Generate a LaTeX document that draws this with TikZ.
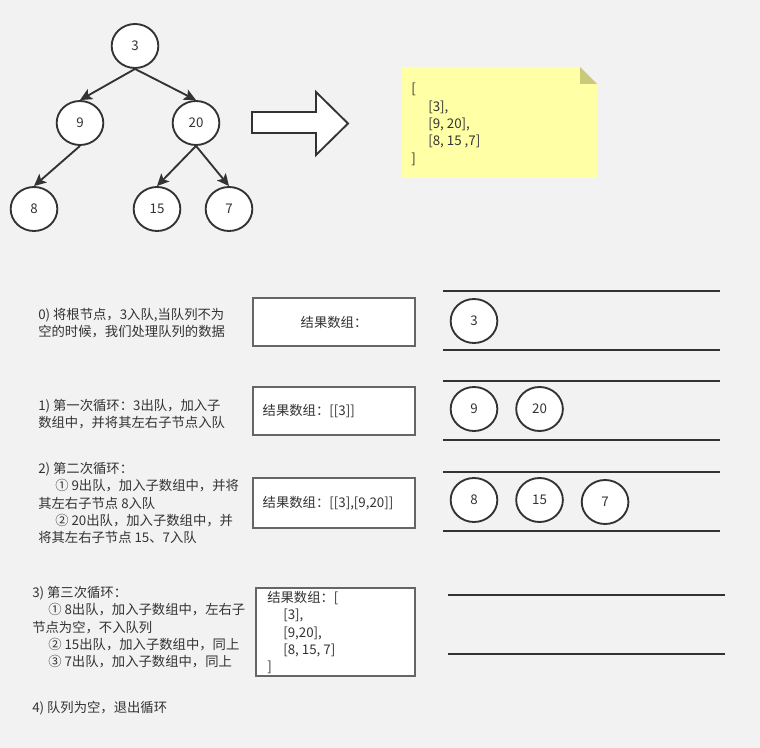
\documentclass[tikz,border=0pt]{standalone}
\usepackage{fontspec}
\setmainfont{Noto Sans CJK SC}
\usetikzlibrary{positioning}
\usetikzlibrary{shapes.geometric}
\usetikzlibrary{arrows.meta}
\definecolor{bggray}{HTML}{F2F2F2}
\definecolor{inkgray}{HTML}{333333}
\definecolor{boxgray}{HTML}{666666}
\definecolor{notefill}{HTML}{FFFFA6}
\definecolor{notefold}{HTML}{CACA7C}

\begin{document}
\begin{tikzpicture}[x=0.75pt, y=-0.75pt,
                circlenode/.style={ellipse, draw=inkgray, fill=white, line width=1.4pt, minimum width=35pt, minimum height=33pt, inner sep=0pt, text=inkgray, font=\fontsize{10}{12}\selectfont},
                resultnode/.style={rectangle, draw=boxgray, fill=white, line width=0.9pt, inner sep=0pt},
                steptext/.style={anchor=north west, align=left, inner sep=0pt, text=inkgray, font=\fontsize{10}{13}\selectfont},
                queueline/.style={draw=inkgray, line width=1.4pt},
                treearrow/.style={-{Stealth[length=9pt, width=8.5pt, inset=2pt]}, draw=inkgray, line width=1.4pt},
                ]

                \fill[bggray] (0,0) rectangle (760,748);
                \useasboundingbox (0,0) rectangle (760,748);

                % tree
                \node[circlenode] (n3) at (135,46) {3};
                \node[circlenode] (n9) at (80,123) {9};
                \node[circlenode] (n20) at (196,123) {20};
                \node[circlenode] (n8) at (34,209) {8};
                \node[circlenode] (n15) at (157,209) {15};
                \node[circlenode] (n7) at (229,209) {7};
                \draw[treearrow] (n3.south) -- (n9.north);
                \draw[treearrow] (n3.south) -- (n20.north);
                \draw[treearrow] (n9.south) -- (n8.north);
                \draw[treearrow] (n20.south) -- (n15.north);
                \draw[treearrow] (n20.south) -- (n7.north);

                % big arrow
                \draw[draw=inkgray, fill=white, line width=1.4pt]
                (252,112) -- (316,112) -- (316,92) -- (348,123.5) -- (316,155) -- (316,133) -- (252,133) -- cycle;

                % note
                \fill[notefill] (402,67) -- (580,67) -- (597,84) -- (597,178) -- (402,178) -- cycle;
                \fill[notefold] (580,67) -- (597,84) -- (580,84) -- cycle;
                \node[steptext] (levels) at (411,83) {[\\\hspace*{12.75pt}[3],\\\hspace*{12.75pt}[9, 20],\\\hspace*{12.75pt}[8, 15 ,7]\\]};

                % steps
                \node[steptext] (step0) at (38,308) {0) 将根节点，3入队,当队列不为\\空的时候，我们处理队列的数据};
                \node[steptext] (step1) at (38,399) {1) 第一次循环：3出队，加入子\\数组中，并将其左右子节点入队};
                \node[steptext] (step2) at (38,462) {2) 第二次循环：\\\hspace*{12.75pt}① 9出队，加入子数组中，并将\\其左右子节点 8入队\\\hspace*{12.75pt}② 20出队，加入子数组中，并\\将其左右子节点 15、7入队};
                \node[steptext] (step3) at (32,586) {3) 第三次循环：\\\hspace*{12pt}① 8出队，加入子数组中，左右子\\节点为空，不入队列\\\hspace*{12pt}② 15出队，加入子数组中，同上\\\hspace*{12pt}③ 7出队，加入子数组中，同上};
                \node[steptext] (step4) at (32,701) {4) 队列为空，退出循环};

                % result arrays
                \node[resultnode, minimum width=121.5pt, minimum height=36pt] (res0) at (334,322) {};
                \node[steptext, anchor=center] at (res0.center) {结果数组：};
                \node[resultnode, minimum width=121.5pt, minimum height=36pt] (res1) at (334,411) {};
                \node[steptext, anchor=west] at ([xshift=7.5pt]res1.west) {结果数组：[[3]]};
                \node[resultnode, minimum width=121.5pt, minimum height=37.5pt] (res2) at (334,503) {};
                \node[steptext, anchor=west] at ([xshift=7.5pt]res2.west) {结果数组：[[3],[9,20]]};
                \node[resultnode, minimum width=119.25pt, minimum height=66pt] (res3) at (335.5,632) {};
                \node[steptext] at (267,591) {结果数组：[\\\hspace*{12pt}[3],\\\hspace*{12pt}[9,20],\\\hspace*{12pt}[8, 15, 7]\\]};

                % queues
                \draw[queueline] (443,291) -- (720,291);
                \draw[queueline] (443,350) -- (720,350);
                \node[circlenode] (q3) at (474,321) {3};

                \draw[queueline] (443,381) -- (720,381);
                \draw[queueline] (443,440) -- (720,440);
                \node[circlenode] (q9) at (474,409) {9};
                \node[circlenode, right=12.75pt of q9] (q20) {20};

                \draw[queueline] (443,472) -- (720,472);
                \draw[queueline] (443,531) -- (720,531);
                \node[circlenode] (q8) at (474,500) {8};
                \node[circlenode, right=12.75pt of q8] (q15) {15};
                \node[circlenode, right=12.75pt of q15, yshift=-1.5pt] (q7) {7};

                \draw[queueline] (448,595) -- (725,595);
                \draw[queueline] (448,654) -- (725,654);
            \end{tikzpicture}
\end{document}
